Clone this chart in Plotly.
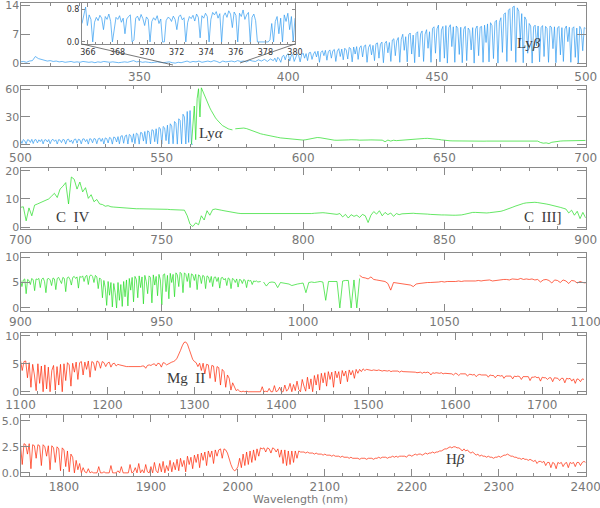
import numpy as np
import plotly.graph_objects as go

BLUE = "#2f9bf0"
GREEN = "#22dd22"
RED = "#ff2400"
AXIS = "#8a8a8a"
TXT = "#777777"

# Panel 1 (blau), 310-395 in 1-nm-Schritten
p1_low = [0.3, 0.4, 0.2, 0.5, 0.6, 1.6, 1.1, 0.9, 0.7, 0.5, 0.6, 0.4, 0.5, 0.3, 0.4, 0.2, 0.3, 0.4, 0.2, 0.3,
          0.2, 0.4, 0.3, 0.2, 0.3, 0.1, 0.3, 0.2, 0.4, 0.3, 0.2, 0.3, 0.2, 0.1, 0.2, 0.3, 0.2, 0.4, 0.6, 0.3,
          0.4, 0.2, 0.3, 0.2, 0.1, 0.2, 0.3, 0.2, 0.1, 0.2, 0.3, 0.1, 0.0, 0.2, 0.1, 0.3, 0.5, 0.2, 0.4, 0.3,
          0.5, 0.2, 0.4, 0.5, 0.3, 0.6, 0.4, 0.1, 0.5, 0.3, 0.4, 0.5, 0.3, 0.6, 0.4, 0.5, 0.3, 0.7, 0.5, 0.4,
          0.8, 0.5, 0.9, 0.4, 1.0, 0.6]
# 395-500 in 0.5-nm-Schritten
p1_high = [0.6, 1.2, 0.3, 1.4, 1.0, 0.2, 1.6, 1.9, 0.8, 2.0,
           2.3, 0.5, 1.8, 2.1, 0.4, 1.5, 2.2, 1.9, 0.3, 2.0,
           2.4, 1.2, 2.3, 0.6, 2.5, 2.6, 0.9, 2.2, 2.8, 1.5,
           2.9, 0.2, 2.6, 3.0, 1.8, 3.1, 0.7, 2.8, 3.2, 1.2,
           3.0, 3.3, 0.4, 2.9, 3.5, 1.6, 3.4, 0.8, 3.6, 3.2,
           1.0, 3.8, 3.5, 0.3, 3.9, 2.2, 4.0, 0.9, 3.7, 4.2,
           1.5, 4.1, 4.4, 0.2, 3.8, 4.5, 2.0, 4.3, 0.6, 4.7,
           4.9, 1.2, 4.6, 5.1, 0.1, 4.8, 5.3, 2.5, 5.0, 0.4,
           5.6, 5.9, 1.8, 5.4, 6.2, 0.2, 5.8, 7.0, 3.1, 6.4,
           0.3, 6.9, 7.3, 2.2, 6.8, 0.1, 7.2, 7.6, 1.5, 7.1,
           7.8, 0.4, 7.0, 8.1, 3.6, 7.6, 0.2, 8.4, 8.8, 2.4,
           8.3, 9.2, 0.3, 8.0, 8.9, 1.2, 9.1, 0.0, 8.6, 9.3,
           4.0, 8.8, 0.2, 9.0, 8.4, 2.1, 8.7, 0.1, 8.2, 8.9,
           0.6, 8.5, 7.9, 3.2, 8.6, 0.0, 8.3, 9.0, 1.8, 8.7,
           8.9, 0.2, 9.2, 5.0, 9.5, 0.3, 9.8, 9.1, 1.1, 10.0,
           10.4, 0.0, 9.9, 11.0, 2.6, 11.8, 12.2, 0.4, 12.8, 13.2,
           3.0, 13.6, 13.8, 0.2, 13.4, 12.6, 5.5, 12.0, 0.1, 11.2,
           10.5, 2.4, 9.6, 9.0, 0.0, 8.8, 9.2, 4.2, 9.0, 0.3,
           8.6, 9.1, 1.6, 8.9, 8.4, 0.2, 9.0, 8.7, 3.5, 8.8,
           0.1, 8.5, 8.9, 2.0, 8.6, 0.4, 8.3, 9.0, 5.2, 8.7,
           0.2, 8.4, 8.8, 1.4, 8.5, 0.0, 8.9, 8.2, 3.0, 8.6,
           8.4]
# Ausschnitt 365.6-380
inset_vals = [0.45, 0.62, 0.85, 0.40, 0.66, 0.55, 0.00, 0.48, 0.60, 0.52,
              0.65, 0.58, 0.30, 0.62, 0.55, 0.68, 0.50, 0.00, 0.35, 0.60,
              0.55, 0.64, 0.48, 0.58, 0.20, 0.56, 0.62, 0.66, 0.00, 0.05,
              0.58, 0.63, 0.52, 0.67, 0.57, 0.40, 0.61, 0.55, 0.00, 0.50,
              0.59, 0.53, 0.64, 0.45, 0.56, 0.00, 0.00, 0.52, 0.60, 0.58,
              0.50, 0.63, 0.55, 0.30, 0.61, 0.66, 0.54, 0.59, 0.00, 0.47,
              0.62, 0.57, 0.65, 0.51, 0.68, 0.60, 0.10, 0.64, 0.58, 0.70,
              0.62, 0.00, 0.55, 0.72, 0.66, 0.74, 0.58, 0.69, 0.00, 0.63,
              0.71, 0.60, 0.76, 0.68, 0.35, 0.73, 0.65, 0.00, 0.70, 0.62,
              0.78, 0.55, 0.66, 0.72, 0.00, 0.60, 0.68, 0.52, 0.00, 0.00,
              0.00, 0.00, 0.00, 0.00, 0.00, 0.05, 0.45, 0.00, 0.50, 0.62,
              0.20, 0.58, 0.00, 0.66, 0.50, 0.70, 0.30, 0.62, 0.00, 0.58]

# Panel 2: blau 500-561 (0.5 nm), gruen 560.5-575 (0.5 nm), 576-700 (1 nm)
p2_blue = [4.5, 1.0, 5.2, 3.8, 0.5, 5.0, 4.6, 2.0, 5.4, 0.8,
           4.8, 5.1, 1.5, 4.9, 3.0, 5.3, 0.4, 4.7, 5.0, 2.6,
           5.2, 0.6, 4.4, 5.5, 3.2, 4.9, 0.3, 5.1, 4.6, 1.8,
           5.3, 4.8, 0.2, 5.0, 5.6, 2.4, 4.5, 0.9, 5.2, 5.8,
           1.2, 5.5, 4.9, 0.4, 5.7, 6.0, 2.8, 5.3, 0.2, 6.1,
           5.6, 1.6, 6.3, 5.8, 0.5, 6.0, 6.8, 3.1, 6.4, 0.3,
           7.0, 6.2, 1.4, 7.5, 6.6, 0.2, 8.0, 7.2, 2.5, 8.4,
           0.4, 8.8, 9.5, 1.1, 9.0, 10.2, 0.3, 10.8, 9.6, 2.2,
           11.5, 0.6, 12.2, 11.0, 0.2, 13.0, 12.4, 3.5, 14.0, 0.5,
           14.8, 13.6, 0.3, 16.0, 15.2, 2.8, 17.0, 0.4, 18.5, 17.2,
           0.2, 19.5, 18.0, 4.0, 21.0, 0.3, 22.5, 20.0, 0.5, 25.0,
           23.0, 0.2, 28.0, 26.0, 0.4, 33.0, 30.0, 0.3, 36.0, 2.0,
           37.0, 0.0, 0.0]
p2_green_a = [0.0, 20, 42, 5, 50, 61, 30, 62, 58, 55,
              50, 47, 44, 40, 37, 34, 31, 29, 27, 25,
              23, 22, 20.5, 19.5, 18.5, 17.5, 17, 16.5, 16, 15.8]
p2_green_b = [17.0, 17.5, 18.0, 17.8, 17.2, 16.0, 14.8, 13.5, 12.5, 11.5,
              10.8, 10.0, 9.4, 8.8, 8.2, 7.6, 7.0, 6.6, 6.2, 5.8,
              5.4, 5.0, 4.7, 4.5, 4.6, 5.0, 5.8, 6.6, 7.2, 7.4,
              7.2, 6.6, 5.8, 5.2, 4.8, 4.5, 4.4, 4.3, 4.4, 4.6,
              4.8, 5.0, 5.2, 4.8, 4.5, 4.3, 4.5, 4.7, 4.8, 4.6,
              4.4, 4.2, 4.5, 2.8, 4.6, 3.5, 4.4, 4.0, 4.3, 4.6,
              4.8, 5.0, 5.3, 5.6, 5.9, 6.1, 6.3, 6.4, 6.5, 6.4,
              6.2, 5.8, 5.3, 4.8, 4.3, 4.0, 3.8, 3.7, 3.6, 3.6,
              3.5, 3.5, 3.6, 3.5, 3.4, 3.5, 3.6, 3.5, 3.4, 3.5,
              3.5, 3.6, 3.5, 3.4, 3.5, 3.6, 3.5, 3.4, 3.5, 3.6,
              3.6, 3.5, 3.6, 3.0, 3.6, 3.5, 3.4, 3.5, 2.0, 1.2,
              1.5, 0.8, 2.2, 2.8, 3.2, 3.5, 3.7, 3.8, 3.9, 4.0,
              4.0, 4.1, 4.0, 4.1, 4.2]

# Panel 3: gruen 700-900 (1 nm)
p3_green = [7.0, 7.2, 2.2, 6.8, 4.0, 7.8, 8.2, 8.6, 9.0, 9.4,
            10.0, 11.0, 12.0, 10.5, 13.5, 14.5, 15.8, 8.2, 17.8, 17.0,
            13.5, 16.0, 12.5, 14.0, 10.2, 11.5, 9.0, 9.8, 8.2, 8.0,
            7.4, 7.6, 7.2, 7.1, 7.0, 6.9, 6.8, 6.7, 6.7, 6.6,
            6.6, 6.5, 6.5, 6.5, 6.4, 6.4, 6.4, 6.3, 6.3, 6.3,
            6.3, 6.3, 6.3, 6.2, 6.2, 6.2, 6.2, 6.2, 6.0, 4.0,
            1.0, 0.2, 1.5, 0.8, 4.0, 2.5, 5.8, 4.2, 6.2, 6.4,
            6.3, 6.0, 5.8, 5.6, 5.3, 5.2, 5.0, 4.9, 4.8, 4.8,
            4.7, 4.7, 4.7, 4.6, 4.6, 4.6, 4.6, 4.6, 4.6, 4.6,
            4.6, 4.6, 4.6, 4.6, 4.6, 4.6, 4.7, 4.7, 4.7, 4.6,
            4.6, 4.7, 4.8, 4.8, 4.9, 5.0, 5.0, 5.1, 5.0, 4.9,
            4.9, 4.8, 4.5, 4.8, 3.6, 4.5, 3.2, 4.4, 3.8, 4.2,
            3.4, 4.5, 4.0, 1.6, 4.2, 5.5, 4.6, 5.8, 4.0, 5.2,
            4.4, 5.0, 3.8, 4.8, 4.4, 4.7, 4.8, 4.8, 4.9, 4.9,
            4.8, 4.8, 4.8, 4.7, 4.6, 4.5, 4.4, 4.4, 4.3, 4.3,
            4.3, 4.2, 4.2, 4.2, 4.2, 4.2, 4.3, 4.5, 4.8, 5.1,
            5.2, 5.2, 5.1, 5.0, 5.0, 5.0, 5.1, 5.2, 5.3, 5.4,
            5.6, 5.9, 6.2, 6.6, 7.0, 7.4, 7.8, 8.1, 8.4, 8.6,
            8.7, 8.8, 8.8, 8.7, 8.6, 8.4, 8.2, 8.0, 7.8, 7.6,
            7.3, 7.0, 6.7, 6.4, 5.0, 6.0, 4.2, 5.6, 3.0, 5.2,
            3.2]

# Panel 4: gruen 900-985 (0.5 nm), 986-1020 (1 nm), rot 1020-1100 (1 nm)
p4_green_a = [5.6, 4.2, 5.5, 5.7, 2.8, 5.6, 5.4, 4.6, 5.8, 5.5,
              3.4, 5.7, 5.6, 5.8, 4.0, 5.6, 5.9, 5.2, 3.0, 5.7,
              5.8, 5.5, 4.4, 5.9, 5.7, 3.6, 5.8, 6.0, 5.4, 4.8,
              6.0, 5.8, 3.2, 5.9, 6.1, 5.6, 4.5, 6.0, 6.2, 5.8,
              6.1, 3.9, 6.2, 6.0, 6.3, 5.2, 6.2, 6.4, 4.6, 6.3,
              6.5, 6.2, 5.0, 6.4, 6.1, 3.8, 5.9, 5.6, 2.0, 5.4,
              4.0, 0.5, 5.2, 2.5, 5.0, 0.2, 4.8, 3.0, 0.0, 5.0,
              1.5, 4.6, 0.3, 5.2, 2.2, 5.5, 0.4, 5.8, 3.5, 6.0,
              1.2, 6.2, 5.6, 2.0, 6.3, 4.0, 6.1, 0.8, 6.4, 5.2,
              2.8, 6.3, 6.0, 1.0, 6.5, 4.5, 6.2, 2.4, 6.6, 5.5,
              0.6, 6.5, 6.7, 3.2, 6.4, 1.8, 6.8, 5.0, 6.6, 2.2,
              6.9, 6.5, 4.2, 7.0, 6.7, 3.0, 6.9, 6.6, 5.2, 6.8,
              4.0, 6.7, 6.5, 5.4, 6.6, 3.6, 6.5, 6.3, 4.8, 6.4,
              6.2, 3.8, 6.3, 6.1, 5.0, 6.2, 4.2, 6.0, 6.1, 5.2,
              6.0, 3.9, 5.9, 6.0, 5.5, 5.8, 4.4, 5.9, 5.7, 3.8,
              5.8, 5.6, 5.0, 5.7, 4.1, 5.6, 5.5, 4.8, 5.6, 5.4,
              4.0, 5.5, 5.3, 5.4, 4.6, 5.3, 5.2, 5.3, 5.1, 5.2,
              5.2]
p4_green_b = [5.1, 4.3, 5.0, 5.1, 5.0, 4.0, 5.0, 4.9, 4.8, 4.7,
              4.4, 4.6, 4.7, 4.8, 4.9, 3.0, 5.0, 5.1, 5.0, 5.1,
              5.2, 5.1, 1.5, 5.2, 5.2, 5.3, 5.2, 0.0, 5.3, 5.4,
              5.4, 0.0, 5.5, 0.0, 5.8]
p4_red = [6.4, 6.0, 5.9, 5.7, 6.1, 5.6, 5.5, 5.4, 5.3, 5.2,
          4.8, 3.5, 5.0, 4.9, 4.8, 4.7, 4.7, 4.6, 4.5, 4.2,
          4.7, 4.8, 4.9, 4.9, 5.0, 5.0, 5.0, 5.1, 5.1, 5.2,
          5.1, 5.2, 5.2, 5.1, 5.2, 5.3, 5.2, 5.3, 5.3, 5.2,
          5.3, 5.3, 5.4, 5.3, 5.4, 5.4, 5.5, 5.3, 5.4, 5.5,
          5.5, 5.6, 5.6, 5.5, 5.7, 5.7, 5.6, 5.8, 5.6, 5.7,
          5.6, 5.7, 5.5, 5.6, 5.1, 5.5, 5.6, 5.4, 4.9, 5.5,
          5.4, 5.0, 5.5, 5.3, 4.8, 5.4, 5.3, 4.9, 5.2, 5.0,
          4.9]

# Panel 5: rot 1090-1748 (2 nm)
p5_red = [5.4, 5.2, 5.5, 4.2, 5.3, 5.6, 3.8, 5.4, 5.5, 2.5,
          5.2, 0.8, 4.9, 3.0, 0.2, 5.0, 1.5, 4.6, 0.0, 4.8,
          0.5, 4.4, 0.0, 3.8, 4.7, 0.3, 4.5, 1.2, 4.9, 0.0,
          5.0, 2.0, 5.2, 4.8, 1.0, 5.1, 3.5, 5.3, 2.2, 5.2,
          5.4, 3.0, 5.3, 4.0, 5.5, 2.6, 5.4, 5.2, 3.8, 5.5,
          5.3, 4.2, 5.4, 5.2, 4.5, 5.1, 5.3, 4.4, 5.0, 5.1,
          4.6, 4.9, 4.8, 4.7, 4.6, 4.6, 4.5, 4.5, 4.5, 4.4,
          4.4, 4.5, 4.5, 4.4, 4.5, 4.6, 4.6, 4.2, 4.7, 4.8,
          4.7, 4.9, 5.0, 4.6, 5.1, 5.0, 4.4, 5.2, 5.1, 4.8,
          5.0, 5.2, 5.3, 5.4, 5.6, 6.0, 6.6, 7.4, 8.2, 8.8,
          8.9, 8.5, 7.6, 6.6, 5.8, 5.4, 5.2, 4.5, 5.1, 3.8,
          5.1, 3.2, 4.9, 4.8, 2.4, 4.7, 4.6, 1.8, 4.5, 4.3,
          1.2, 4.0, 3.6, 0.8, 3.0, 2.4, 0.3, 1.6, 0.8, 0.2,
          0.4, 0.1, 0.0, 0.1, 0.0, 0.1, 0.0, 0.0, 0.1, 0.0,
          0.0, 0.1, 0.0, 0.0, 0.9, 0.0, 0.1, 0.0, 0.6, 0.0,
          0.0, 1.1, 0.0, 0.2, 0.8, 0.0, 0.0, 1.2, 0.1, 0.5,
          1.5, 0.0, 1.3, 0.2, 1.9, 0.4, 0.0, 2.2, 1.0, 0.1,
          2.6, 0.5, 2.3, 0.0, 2.9, 1.2, 3.1, 0.3, 3.3, 1.6,
          3.4, 1.0, 3.6, 2.2, 3.5, 0.8, 3.7, 2.5, 3.6, 1.4,
          3.8, 2.8, 3.7, 1.8, 3.9, 3.0, 3.8, 2.4, 4.0, 3.3,
          4.0, 3.6, 4.1, 3.8, 4.0, 3.9, 3.9, 3.8, 3.9, 3.8,
          3.8, 3.9, 3.8, 3.7, 3.8, 3.7, 3.7, 3.8, 3.6, 3.7,
          3.7, 3.6, 3.7, 3.5, 3.7, 3.6, 3.6, 3.5, 3.6, 3.6,
          3.5, 3.6, 3.5, 3.4, 3.5, 3.5, 3.3, 3.5, 3.4, 3.5,
          3.4, 3.0, 3.4, 3.3, 3.4, 3.3, 3.3, 3.4, 3.2, 3.3,
          3.3, 3.2, 3.3, 3.2, 3.0, 3.3, 3.2, 2.9, 3.2, 3.2,
          3.1, 3.2, 2.8, 3.1, 3.1, 3.0, 3.1, 2.7, 3.0, 3.1,
          3.0, 3.0, 2.9, 3.0, 2.6, 3.0, 2.9, 2.9, 2.5, 2.9,
          2.9, 2.8, 2.9, 2.4, 2.8, 2.8, 2.9, 2.8, 2.3, 2.8,
          2.7, 2.8, 2.7, 2.2, 2.7, 2.7, 2.6, 2.7, 2.0, 2.6,
          2.6, 2.7, 2.5, 2.6, 1.9, 2.6, 2.5, 2.5, 2.2, 2.5,
          2.5, 1.8, 2.5, 2.4, 2.4, 2.0, 2.4, 2.4, 1.6, 2.4,
          2.3, 2.4, 1.9, 2.3, 1.5, 2.3, 2.2, 1.8, 2.3, 2.2]

# Panel 6: rot 1730-2400 (2 nm)
p6_red = [2.9, 2.8, 1.2, 2.9, 2.7, 0.6, 2.9, 2.8, 1.5, 2.8,
          2.7, 0.8, 2.8, 2.7, 1.8, 2.8, 0.4, 2.7, 2.6, 1.4,
          2.7, 2.6, 0.7, 2.7, 2.5, 1.6, 2.6, 0.3, 2.6, 2.4,
          1.0, 2.5, 2.3, 0.2, 2.4, 2.2, 0.6, 2.1, 0.1, 1.8,
          1.5, 0.0, 1.2, 0.3, 0.9, 0.0, 0.5, 0.1, 0.0, 0.4,
          0.0, 0.1, 0.0, 0.0, 0.0, 0.6, 0.0, 0.0, 0.1, 0.0,
          0.0, 0.0, 0.7, 0.0, 0.0, 0.0, 0.2, 0.0, 0.6, 0.0,
          0.0, 0.0, 0.0, 0.8, 0.0, 0.1, 0.5, 0.0, 0.9, 0.0,
          0.3, 0.0, 0.8, 0.1, 0.0, 0.6, 0.0, 1.0, 0.2, 0.0,
          0.9, 0.1, 1.1, 0.0, 0.7, 0.2, 1.2, 0.1, 1.0, 0.3,
          1.3, 0.2, 1.4, 0.6, 1.2, 0.1, 1.6, 0.8, 1.5, 0.4,
          1.7, 1.0, 1.8, 0.5, 1.9, 1.2, 2.0, 0.7, 2.1, 1.5,
          2.1, 0.9, 2.2, 1.6, 2.2, 2.3, 1.4, 2.3, 2.2, 1.9,
          1.2, 0.8, 0.4, 0.2, 0.3, 0.6, 1.4, 0.5, 1.8, 0.7,
          2.0, 0.8, 2.1, 1.0, 2.2, 1.2, 2.3, 1.6, 2.4, 2.3,
          2.4, 2.0, 2.4, 2.3, 1.9, 2.4, 2.3, 2.0, 2.3, 1.5,
          2.2, 0.9, 2.2, 0.7, 2.1, 0.8, 2.1, 1.0, 2.1, 1.4,
          2.1, 2.0, 2.0, 2.0, 1.9, 2.0, 1.9, 1.9, 1.9, 1.8,
          1.9, 1.8, 1.8, 1.8, 1.7, 1.8, 1.7, 1.7, 1.7, 1.6,
          1.7, 1.6, 1.6, 1.6, 1.5, 1.6, 1.5, 1.5, 1.5, 1.4,
          1.5, 1.4, 1.4, 1.4, 1.4, 1.3, 1.4, 1.4, 1.4, 1.3,
          1.4, 1.4, 1.4, 1.3, 1.4, 1.4, 1.5, 1.4, 1.5, 1.5,
          1.5, 1.4, 1.5, 1.5, 1.6, 1.5, 1.6, 1.5, 1.6, 1.6,
          1.6, 1.6, 1.5, 1.7, 1.7, 1.6, 1.7, 1.8, 1.7, 1.8,
          1.8, 1.7, 1.8, 1.9, 1.8, 1.9, 1.9, 2.0, 1.9, 2.0,
          2.0, 2.1, 2.1, 2.2, 2.3, 2.3, 2.4, 2.5, 2.4, 2.5,
          2.5, 2.4, 2.4, 2.3, 2.1, 2.3, 2.1, 2.2, 2.0, 1.9,
          2.0, 1.8, 1.7, 1.8, 1.6, 1.7, 1.6, 1.6, 1.5, 1.6,
          1.5, 1.5, 1.4, 1.5, 1.5, 1.6, 1.5, 1.6, 1.7, 1.7,
          1.8, 1.7, 1.6, 1.6, 1.5, 1.5, 1.4, 1.4, 1.3, 1.4,
          1.3, 1.3, 1.2, 1.3, 1.2, 1.1, 1.2, 0.9, 1.1, 1.1,
          1.0, 1.1, 0.7, 1.0, 1.0, 0.5, 1.0, 0.9, 0.4, 1.0,
          0.9, 1.0, 0.6, 0.9, 1.0, 0.5, 1.0, 0.9, 1.0, 0.6,
          1.0, 1.0, 0.7, 1.0, 1.1, 1.0]

# Achsen: (x-Bereich, y-Bereich, y-Ticks, x-dtick, x-minor, Pixel oben/unten)
PANELS = [
    ((310, 500), (-0.7, 14.5), [0, 7, 14], 50, 10, (3.3, 66)),
    ((500, 700), (-3, 64), [0, 30, 60], 50, 10, (86, 147)),
    ((700, 900), (-0.7, 21), [0, 10, 20], 50, 10, (168, 229)),
    ((900, 1100), (-0.6, 10.8), [0, 5, 10], 50, 10, (253, 311)),
    ((1100, 1750), (-0.4, 10.5), [0, 5, 10], 100, 20, (333, 394)),
    ((1750, 2400), (-0.3, 5.55), [0, 2.5, 5], 100, 20, (415, 476)),
]
YTEXT = [["0", "7", "14"], ["0", "30", "60"], ["0", "10", "20"], ["0", "5", "10"],
         ["0", "5", "10"], ["0.0", "2.5", "5.0"]]

W, H = 600, 508
X0, X1 = 20.5 / W, 585.7 / W


def seg(lo, hi, vals):
    return np.linspace(lo, hi, len(vals)), vals


def line(x, y, color, n):
    ax = "" if n == 1 else str(n)
    return go.Scatter(x=x, y=y, mode="lines", line=dict(color=color, width=0.7),
                      xaxis="x" + ax, yaxis="y" + ax, hoverinfo="skip", showlegend=False)


fig = go.Figure()
spectra = [
    (1, seg(310, 395, p1_low), BLUE),
    (1, seg(395, 500, p1_high), BLUE),
    (2, seg(500, 561, p2_blue), BLUE),
    (2, seg(560.5, 575, p2_green_a), GREEN),
    (2, seg(576, 700, p2_green_b), GREEN),
    (3, seg(700, 900, p3_green), GREEN),
    (4, seg(900, 985, p4_green_a), GREEN),
    (4, seg(986, 1020, p4_green_b), GREEN),
    (4, seg(1020, 1100, p4_red), RED),
    (5, seg(1090, 1748, p5_red), RED),
    (6, seg(1730, 2400, p6_red), RED),
    (7, seg(365.6, 380, inset_vals), BLUE),
]
for n, (x, y), c in spectra:
    fig.add_trace(line(x, y, c, n))

axis_common = dict(showline=True, linecolor=AXIS, linewidth=1, mirror="ticks", ticks="inside",
                   tickcolor=AXIS, showgrid=False, zeroline=False, automargin=False,
                   ticklabeloverflow="allow",
                   tickfont=dict(family="DejaVu Sans", size=12, color=TXT))
layout = dict(width=W, height=H, margin=dict(l=0, r=0, t=0, b=0, autoexpand=False),
              paper_bgcolor="white", plot_bgcolor="white")

for i, (xr, yr, yt, dt, mn, (top, bot)) in enumerate(PANELS, start=1):
    s = "" if i == 1 else str(i)
    layout["xaxis" + s] = dict(axis_common, domain=[X0, X1], range=list(xr), anchor="y" + s,
                               tick0=0, dtick=dt, ticklen=7,
                               minor=dict(ticks="inside", ticklen=3, dtick=mn, tick0=0, tickcolor=AXIS))
    layout["yaxis" + s] = dict(axis_common, domain=[1 - bot / H, 1 - top / H], range=list(yr),
                               anchor="x" + s, tickvals=yt, ticktext=YTEXT[i - 1], ticklen=9,
                               ticklabelstandoff=-2,
                               tickfont=dict(family="DejaVu Sans", size=11, color=TXT))

# Ausschnitt oben links
small = dict(family="DejaVu Sans", size=8, color="#333333")
layout["xaxis7"] = dict(axis_common, domain=[82 / W, 295 / W], range=[365.6, 380], anchor="y7",
                        tickvals=list(range(366, 381, 2)), ticklen=4, tickfont=small,
                        minor=dict(ticks="inside", ticklen=2, dtick=0.5, tick0=0, tickcolor=AXIS))
layout["yaxis7"] = dict(axis_common, domain=[1 - 44 / H, 1 - 3 / H], range=[-0.05, 0.95], anchor="x7",
                        tickvals=[0, 0.8], ticktext=["0.0", "0.8"], ticklen=3, tickfont=small)
fig.update_layout(**layout)

# Verbindungslinien Ausschnitt -> Spektrum
for (xa, ya), (xb, yb) in [((82, 44), (173, 65)), ((295, 44), (240, 63))]:
    fig.add_shape(type="line", xref="paper", yref="paper", x0=xa / W, y0=1 - ya / H,
                  x1=xb / W, y1=1 - yb / H, line=dict(color="#555555", width=0.8))

serif = dict(family="Liberation Serif", size=15, color="#3a3a3a")
labels = [
    (1, 481, 4.8, "Ly<i>β</i>"),
    (2, 567.5, 12, "Ly<i>α</i>"),
    (3, 718.6, 3.4, "C  IV"),
    (3, 885, 3.4, "C  III]"),
    (5, 1290, 2.4, "Mg  II"),
    (6, 2250, 1.36, "H<i>β</i>"),
]
for n, x, y, t in labels:
    s = "" if n == 1 else str(n)
    fig.add_annotation(x=x, y=y, xref="x" + s, yref="y" + s, text=t, showarrow=False, font=serif)

fig.add_annotation(x=0.5, y=0.0, yanchor="bottom", xref="paper", yref="paper", text="Wavelength (nm)",
                   showarrow=False, font=dict(family="DejaVu Sans", size=11, color=TXT))

# Seitenrand des Browsers entfernen, damit die Grafik bei (0,0) liegt
fig.write_html("out.html", config={"displayModeBar": False},
               post_script="document.body.style.margin='0';")
